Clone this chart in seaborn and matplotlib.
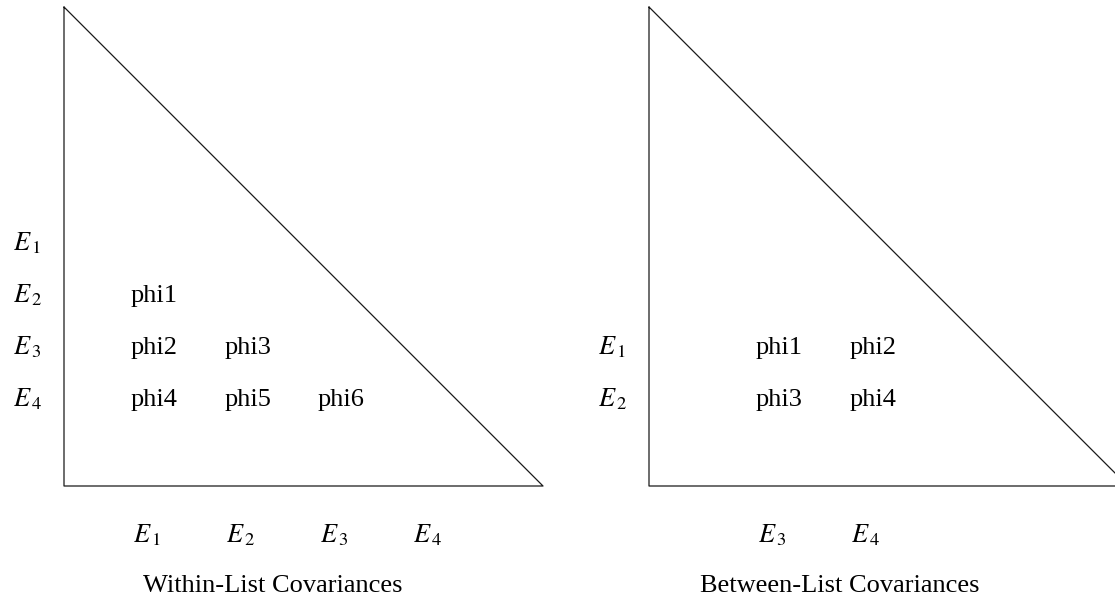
import pandas as pd
import matplotlib
matplotlib.use("Agg")
import matplotlib.pyplot as plt
import seaborn as sns

# Within-list panel
within_rows = ["E_1", "E_2", "E_3", "E_4"]
within_cols = ["E_1", "E_2", "E_3", "E_4"]
within_cells = [[], ["phi1"], ["phi2", "phi3"], ["phi4", "phi5", "phi6"]]
within_title = "Within-List Covariances"

# Between-list panel
between_rows = ["E_1", "E_2"]
between_cols = ["E_3", "E_4"]
between_cells = [["phi1", "phi2"], ["phi3", "phi4"]]
between_title = "Between-List Covariances"

sns.set_theme(style="white")
plt.rcParams["font.family"] = ["Liberation Serif", "DejaVu Serif"]
plt.rcParams["mathtext.fontset"] = "stix"
plt.rcParams["text.color"] = "black"

fig = plt.figure(figsize=(11.15, 5.97), dpi=100)
ax = fig.add_axes([0, 0, 1, 1])

FS = 19
side = 479          # triangle leg length (px)
top = 7
dx, dy = 93.3, 52   # grid spacing
last_row = 406      # baseline of the bottom row
col_base = 542      # baseline of column labels
title_base = 592


def tex(s):
    base, sub = s.split("_")
    return r"$%s_{\hspace{0.16}%s}$" % (base, sub)


def panel(x0, col_off, title_x, rows, cols, cells, title):
    bottom = top + side
    tri = pd.DataFrame({"x": [x0, x0, x0 + side, x0],
                        "y": [top, bottom, bottom, top]})
    sns.lineplot(data=tri, x="x", y="y", sort=False, estimator=None,
                 color="#1a1a1a", linewidth=0.9, ax=ax)
    n = len(rows)
    for j, lab in enumerate(rows):
        y = last_row - dy * (n - 1 - j)
        ax.text(x0 - 51, y, tex(lab), fontsize=FS, ha="left", va="baseline")
        for i, c in enumerate(cells[j]):
            ax.text(x0 + col_off + dx * i, y, c, fontsize=FS,
                    ha="left", va="baseline")
    for i, lab in enumerate(cols):
        ax.text(x0 + col_off + 2 + dx * i, col_base, tex(lab), fontsize=FS,
                ha="left", va="baseline")
    ax.text(title_x, title_base, title, fontsize=FS, ha="center", va="baseline")


panel(64, 67, 273, within_rows, within_cols, within_cells, within_title)
panel(649, 107, 840, between_rows, between_cols, between_cells, between_title)

ax.set_xlim(0, 1115)
ax.set_ylim(597, 0)
ax.axis("off")
fig.savefig("out.png", dpi=100)
